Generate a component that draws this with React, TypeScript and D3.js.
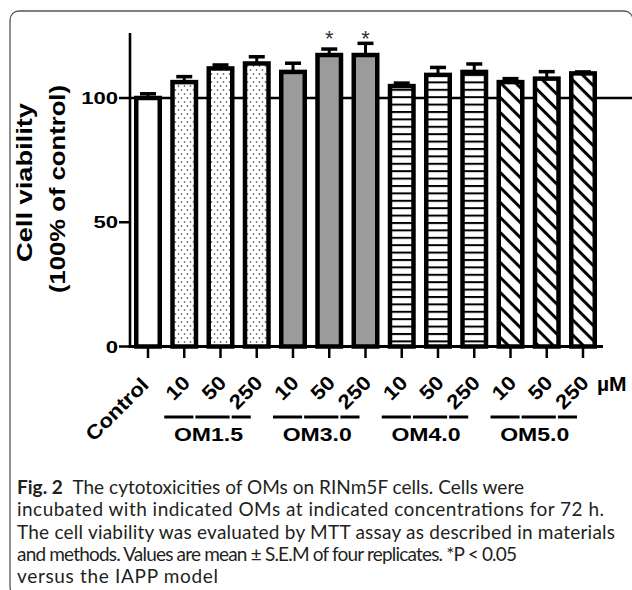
import React from "react";
import * as d3 from "d3";

// ---- data ----
const groups = ["Control", "OM1.5", "OM3.0", "OM4.0", "OM5.0"];
const doseLabels = ["Control", "10", "50", "250", "10", "50", "250", "10", "50", "250", "10", "50", "250"];
const barGroup = [0, 1, 1, 1, 2, 2, 2, 3, 3, 3, 4, 4, 4];
const means = [100, 106.4, 111.9, 113.9, 110.5, 117.3, 117.3, 104.8, 109.3, 110.5, 106.4, 107.8, 109.9];
const sems = [1.7, 2.2, 1.4, 2.7, 3.5, 2.4, 4.7, 1.2, 3.0, 3.2, 1.4, 2.8, 0.6];
const significant = [false, false, false, false, false, true, true, false, false, false, false, false, false];
const yTicks = [0, 50, 100];
const referenceValue = 100;
const unitLabel = "µM";
const yTitle = ["Cell viability", "(100% of control)"];
const captionLines = [
  "The cytotoxicities of OMs on RINm5F cells. Cells were",
  "incubated with indicated OMs at indicated concentrations for 72 h.",
  "The cell viability was evaluated by MTT assay as described in materials",
  "and methods. Values are mean ± S.E.M of four replicates. *P < 0.05",
  "versus the IAPP model",
];
const captionLead = "Fig. 2";
const captionWidths = [507, 587, 598, 500, 201];

export default function App() {
  const W = 632;
  const H = 590;
  const y = d3.scaleLinear().domain([0, 126]).range([346.5, 33.4]);
  const x = d3.scalePoint<number>().domain(d3.range(means.length)).range([148, 583]);
  const barW = 23.5;
  const fills = ["#ffffff", "url(#dots)", "#9b9b9b", "url(#hlines)", "url(#diag)"];
  const font = "Arial, 'Liberation Sans', Helvetica, sans-serif";
  const y0 = y(0);

  const groupInfo = groups.slice(1).map((g, k) => {
    const idx = barGroup.map((gg, i) => (gg === k + 1 ? i : -1)).filter((i) => i >= 0);
    const first = x(idx[0])!;
    const last = x(idx[idx.length - 1])!;
    return { name: g, idx, first, last };
  });

  return (
    <svg width={W} height={H} style={{ position: "absolute", left: 0, top: 0, background: "#fff" }}>
      <defs>
        <pattern id="dots" patternUnits="userSpaceOnUse" width="6" height="8">
          <rect width="6" height="8" fill="#fff" />
          <circle cx="1.5" cy="2" r="0.8" fill="#333" />
          <circle cx="4.5" cy="6" r="0.8" fill="#333" />
        </pattern>
        <pattern id="hlines" patternUnits="userSpaceOnUse" width="10" height="7.4">
          <rect width="10" height="7.4" fill="#fff" />
          <rect y="0" width="10" height="2" fill="#000" />
        </pattern>
        <pattern id="diag" patternUnits="userSpaceOnUse" width="10" height="10.6" patternTransform="rotate(45)">
          <rect width="10" height="10.6" fill="#fff" />
          <rect y="0" width="10" height="3" fill="#000" />
        </pattern>
      </defs>

      {/* frame */}
      <rect x={10} y={11} width={623} height={585} rx={9} ry={9} fill="none" stroke="#555" strokeWidth={1.3} />

      <g style={{ fontFamily: font }}>
        {/* reference line */}
        <line x1={130} x2={632} y1={y(referenceValue)} y2={y(referenceValue)} stroke="#000" strokeWidth={2.5} />

        {/* bars */}
        {means.map((m, i) => (
          <rect
            key={"b" + i}
            x={x(i)! - barW / 2}
            y={y(m)}
            width={barW}
            height={y0 - y(m)}
            fill={fills[barGroup[i]]}
            stroke="#000"
            strokeWidth={4.5}
          />
        ))}
        {/* error bars */}
        {means.map((m, i) => (
          <g key={"e" + i} stroke="#000">
            <line x1={x(i)} x2={x(i)} y1={y(m)} y2={y(m + sems[i])} strokeWidth={3} />
            <line x1={x(i)! - 8} x2={x(i)! + 8} y1={y(m + sems[i])} y2={y(m + sems[i])} strokeWidth={3.5} />
          </g>
        ))}
        {/* stars */}
        {means.map((m, i) =>
          significant[i] ? (
            <text key={"s" + i} x={x(i)} y={46} textAnchor="middle" fontSize={22} fill="#333">
              *
            </text>
          ) : null
        )}

        {/* y axis */}
        <line x1={130} x2={130} y1={33} y2={y0 + 1.5} stroke="#000" strokeWidth={2.6} />
        {yTicks.map((t) => (
          <g key={"yt" + t}>
            <line x1={119} x2={130} y1={y(t)} y2={y(t)} stroke="#000" strokeWidth={2.5} />
            <text
              transform={`translate(118,${y(t) + 6.1}) scale(1.3,1)`}
              textAnchor="end"
              fontSize={17}
              fontWeight="bold"
              fill="#000"
            >
              {t}
            </text>
          </g>
        ))}
        <text
          transform="translate(32,182.5) rotate(-90)"
          textAnchor="middle"
          fontSize={22}
          fontWeight="bold"
          textLength={159}
          lengthAdjust="spacingAndGlyphs"
        >
          {yTitle[0]}
        </text>
        <text
          transform="translate(65,189) rotate(-90)"
          textAnchor="middle"
          fontSize={22}
          fontWeight="bold"
          textLength={208}
          lengthAdjust="spacingAndGlyphs"
        >
          {yTitle[1]}
        </text>

        {/* x axis */}
        <line x1={128.7} x2={603} y1={y0} y2={y0} stroke="#000" strokeWidth={3} />
        {means.map((m, i) => (
          <line key={"xt" + i} x1={x(i)} x2={x(i)} y1={y0} y2={358} stroke="#000" strokeWidth={2.5} />
        ))}
        {doseLabels.map((d, i) => (
          <text
            key={"xl" + i}
            transform={`translate(${x(i)! + (i === 0 ? 2 : 7)},${i === 0 ? 386 : 384}) rotate(-45) scale(1.12,1)`}
            textAnchor="end"
            fontSize={20}
            fontWeight="bold"
          >
            {d}
          </text>
        ))}
        <text x={597} y={391} fontSize={21} fontWeight="bold">
          {unitLabel}
        </text>

        {/* group lines & labels */}
        {groupInfo.map((g) => {
          const start = g.first - 20;
          const end = g.last - 6;
          const mids = g.idx.slice(1).map((j) => (x(j - 1)! + x(j)!) / 2 - 8);
          const pts = [start, ...mids, end];
          return (
            <g key={g.name}>
              {pts.slice(1).map((p, k) => (
                <line
                  key={k}
                  x1={pts[k] + (k === 0 ? 0 : 1)}
                  x2={p - (k === pts.length - 2 ? 0 : 1)}
                  y1={417}
                  y2={417}
                  stroke="#000"
                  strokeWidth={3}
                />
              ))}
              <text
                transform={`translate(${(g.first + g.last) / 2 - 12},440.5) scale(1.28,1)`}
                textAnchor="middle"
                fontSize={18}
                fontWeight="bold"
              >
                {g.name}
              </text>
            </g>
          );
        })}
      </g>

      {/* caption */}
      <g style={{ fontFamily: "Lato, 'Open Sans', sans-serif" }} fontSize={19} fill="#231f20">
        {captionLines.map((l, k) => (
          <text key={"c" + k} x={17} y={494 + k * 22.3} textLength={captionWidths[k]} lengthAdjust="spacing">
            {k === 0 ? (
              <>
                <tspan fontWeight="bold">{captionLead}</tspan>
                <tspan>{"\u2002" + l}</tspan>
              </>
            ) : (
              l
            )}
          </text>
        ))}
      </g>
    </svg>
  );
}
